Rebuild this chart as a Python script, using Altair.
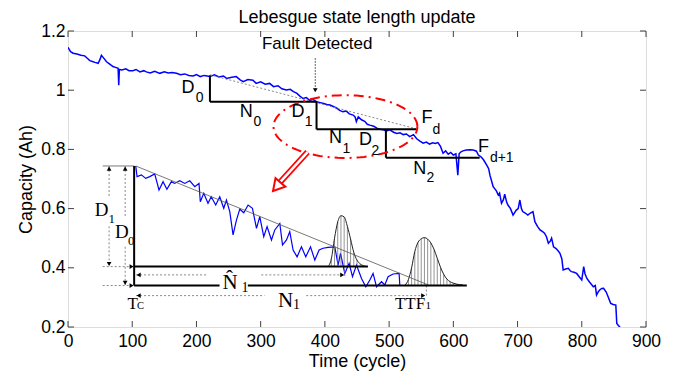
import altair as alt
import pandas as pd
import numpy as np

SANS = "Liberation Sans"
SERIF = "Liberation Serif"

# ---------------- data ----------------
main_cycle = [0, 4, 8, 14, 20, 26, 30, 34, 38, 42, 47, 50, 52, 55, 60, 65, 70, 74, 78, 79, 80, 84, 90, 95,
              101, 106, 112, 118, 122, 128, 135, 143, 150, 156, 162, 169, 175, 182, 188, 195, 200, 206, 212,
              221, 228, 235, 242, 247, 255, 262, 268, 273, 280, 288, 293, 300, 307, 314, 320, 327, 333, 340,
              346, 351, 356, 361, 366, 371, 377, 381, 387, 393, 398, 403, 408, 413, 418, 423, 428, 433, 438,
              444, 447, 449, 452, 457, 462, 466, 470, 476, 481, 486, 491, 496, 501, 507, 512, 517, 522, 527,
              532, 538, 543, 548, 553, 558, 563, 568, 572, 576, 580, 584, 588, 592, 596, 600, 604, 607, 609,
              612, 615, 620, 626, 631, 636, 639, 643, 647, 652, 655, 657, 660, 662, 667, 670, 672, 675, 678,
              680, 683, 685, 689, 693, 698, 701, 703.6, 706, 708, 712, 716, 720, 724, 727, 731, 735, 739, 742,
              745, 748, 751, 753, 756, 760, 764, 766, 769, 771, 775, 779, 782, 784, 788, 792, 796, 800, 803,
              805, 808, 812, 818, 821, 823, 826, 828, 831, 834, 838, 841, 845, 849, 853, 854.5, 857, 860]
main_cap = [1.145, 1.13, 1.125, 1.122, 1.118, 1.116, 1.108, 1.10, 1.097, 1.094, 1.091, 1.105, 1.118, 1.11,
            1.096, 1.088, 1.08, 1.077, 1.074, 1.017, 1.07, 1.068, 1.072, 1.066, 1.066, 1.07, 1.062, 1.066,
            1.062, 1.058, 1.064, 1.057, 1.062, 1.058, 1.06, 1.057, 1.052, 1.055, 1.05, 1.048, 1.053, 1.046,
            1.05, 1.046, 1.052, 1.045, 1.048, 1.04, 1.044, 1.046, 1.035, 1.029, 1.036, 1.034, 1.023, 1.028,
            1.02, 1.023, 1.012, 1.015, 1.005, 1.001, 1.003, 0.995, 0.99, 0.98, 0.972, 0.975, 0.965, 0.97,
            0.961, 0.958, 0.955, 0.952, 0.95, 0.945, 0.94, 0.932, 0.927, 0.93, 0.92, 0.916, 0.91, 0.894,
            0.91, 0.9, 0.895, 0.885, 0.882, 0.878, 0.872, 0.868, 0.866, 0.862, 0.866, 0.858, 0.854, 0.856,
            0.85, 0.852, 0.843, 0.85, 0.836, 0.828, 0.821, 0.825, 0.818, 0.822, 0.82, 0.823, 0.81, 0.787,
            0.795, 0.784, 0.79, 0.781, 0.785, 0.713, 0.785, 0.792, 0.795, 0.798, 0.799, 0.798, 0.794, 0.781,
            0.775, 0.765, 0.747, 0.735, 0.713, 0.69, 0.674, 0.66, 0.646, 0.652, 0.618, 0.63, 0.649, 0.622,
            0.612, 0.6, 0.578, 0.595, 0.6, 0.629, 0.6, 0.59, 0.585, 0.578, 0.585, 0.59, 0.556, 0.54, 0.528,
            0.522, 0.517, 0.505, 0.483, 0.49, 0.5, 0.471, 0.465, 0.455, 0.449, 0.43, 0.393, 0.396, 0.398,
            0.39, 0.387, 0.385, 0.381, 0.37, 0.359, 0.404, 0.38, 0.364, 0.352, 0.336, 0.34, 0.308, 0.32,
            0.325, 0.33, 0.331, 0.318, 0.302, 0.28, 0.276, 0.274, 0.212, 0.205, 0.198]

inset_cycle = [105.5, 107.5, 114.3, 121, 127.3, 135, 141.7, 148, 154, 161, 166, 174, 181.8, 189.6, 197.4,
               204, 206, 211.4, 218, 223, 230, 236.3, 242.5, 246.7, 251.9, 257, 262.3, 267.5, 273.7, 280.4,
               287.2, 293.5, 298.6, 304.8, 310, 316.8, 322, 329.8, 334, 340.2, 345.3, 350.5, 356.7, 363.5,
               370.2, 377.6, 384.3, 391, 397.2, 405, 415.4, 420.6, 424.3, 431, 437.7, 443, 449.2, 457,
               463.7, 470, 475, 480.4, 488.2, 493.3, 498.4, 506.2, 515.6, 516.7]
inset_cap = [0.744, 0.708, 0.714, 0.702, 0.708, 0.717, 0.663, 0.691, 0.665, 0.691, 0.685, 0.694, 0.685,
             0.694, 0.674, 0.685, 0.623, 0.652, 0.618, 0.640, 0.612, 0.640, 0.601, 0.629, 0.590, 0.511,
             0.561, 0.598, 0.586, 0.612, 0.601, 0.533, 0.573, 0.505, 0.539, 0.494, 0.528, 0.550, 0.477,
             0.494, 0.522, 0.460, 0.437, 0.471, 0.437, 0.471, 0.426, 0.460, 0.466, 0.469, 0.471, 0.409,
             0.449, 0.381, 0.415, 0.370, 0.409, 0.364, 0.336, 0.359, 0.381, 0.336, 0.353, 0.342, 0.370,
             0.379, 0.381, 0.339]

bell1_cycle = [405, 410, 415, 420, 425, 430, 435, 440, 445, 450, 455, 460, 465]
bell1_cap = [0.404, 0.43, 0.50, 0.555, 0.576, 0.572, 0.54, 0.497, 0.452, 0.426, 0.413, 0.407, 0.404]
bell1_base = 0.404
bell2_cycle = [525, 530, 535, 540, 545, 550, 555, 560, 565, 570, 575, 580, 585, 590, 595, 600, 605, 610, 615]
bell2_cap = [0.342, 0.36, 0.40, 0.455, 0.486, 0.498, 0.502, 0.497, 0.484, 0.462, 0.432, 0.402, 0.378,
             0.362, 0.353, 0.348, 0.345, 0.343, 0.342]
bell2_base = 0.342

x_ticks = [0, 100, 200, 300, 400, 500, 600, 700, 800, 900]
y_ticks = [0.2, 0.4, 0.6, 0.8, 1.0, 1.2]

# annotation segments (x, y, x2, y2)
thick_segs = [
    (221, 1.050, 221, 0.961), (221, 0.961, 387, 0.961), (387, 0.961, 387, 0.868),
    (387, 0.868, 542, 0.868), (495, 0.868, 495, 0.772), (495, 0.772, 641, 0.772),
    (103, 0.744, 103, 0.340), (103, 0.404, 467, 0.404), (103, 0.340, 236, 0.340),
    (280, 0.340, 621, 0.340),
]
thin_segs = [
    (105.5, 0.744, 561, 0.342), (54, 0.744, 103, 0.744),
]
dotted_segs = [
    (221, 1.052, 545, 0.868),
    (64, 0.744, 64, 0.64), (64, 0.54, 64, 0.404),
    (89, 0.744, 89, 0.573), (89, 0.471, 89, 0.340),
    (54, 0.404, 103, 0.404), (54, 0.340, 103, 0.340),
    (106, 0.376, 215, 0.376), (301, 0.376, 430, 0.376),
    (106, 0.306, 306, 0.306), (371, 0.306, 557, 0.306),
    (558, 0.340, 558, 0.300), (431, 0.404, 431, 0.372),
]
fault_segs = [(385, 1.108, 385, 1.0)]

arrow_heads = [  # x, y, shape
    (64, 0.735, "triangle-up"), (64, 0.413, "triangle-down"),
    (89, 0.735, "triangle-up"), (89, 0.349, "triangle-down"),
    (99, 0.404, "triangle-right"), (99, 0.340, "triangle-right"),
    (110, 0.376, "triangle-left"), (427, 0.376, "triangle-right"),
    (110, 0.306, "triangle-left"), (553, 0.306, "triangle-right"),
    (385, 1.0, "triangle-down"),
]

# hollow red arrow: tail, head base, head centre
red_arrow_shaft = [(373, 0.791, 331, 0.691)]
red_arrow_head = [(325, 0.674)]

# red dash-dot ellipse: centre and semi-axes
ell_cx, ell_cy, ell_rx, ell_ry = 432, 0.877, 112, 0.106

sans_labels = [  # x, y (baseline-left), text, size
    (176.6, 0.990, "D", 18), (199, 0.961, "0", 14),
    (267.4, 0.909, "N", 18), (289, 0.880, "0", 14),
    (348, 0.910, "D", 18), (368.7, 0.880, "1", 14),
    (406.5, 0.821, "N", 18), (427.4, 0.787, "1", 14),
    (453.3, 0.814, "D", 18), (472.6, 0.781, "2", 14),
    (550.5, 0.888, "F", 18), (567.6, 0.852, "d", 14),
    (537.4, 0.717, "N", 18), (558.3, 0.691, "2", 14),
    (638.6, 0.792, "F", 18), (656.9, 0.758, "d+1", 14),
]
serif_labels = [
    (41.6, 0.575, "D", 19), (63.0, 0.552, "1", 13),
    (73.0, 0.500, "D", 19), (93.6, 0.477, "0", 12.5),
    (240.5, 0.327, "N\u0302", 21), (270, 0.319, "1", 14),
    (327, 0.266, "N", 21), (350.5, 0.262, "1", 14),
    (92.5, 0.260, "T", 17), (107.5, 0.260, "C", 10.5),
    (509, 0.260, "TTF", 17), (556.7, 0.260, "1", 11),
]
fault_label = [(388, 1.138, "Fault Detected")]

# ---------------- build chart ----------------
W, H = 578, 296
xs = alt.Scale(domain=[0, 900], nice=False, zero=False)
ys = alt.Scale(domain=[0.2, 1.2], nice=False, zero=False)

x_axis = alt.Axis(values=x_ticks, title="Time (cycle)", ticks=False, tickSize=0, domain=False, grid=False,
                  labelFontSize=17.5, labelFont=SANS, labelPadding=5, labelColor="black",
                  labelFlush=False, labelOverlap=False,
                  titleFontSize=18, titleFont=SANS, titleFontWeight="normal", titleColor="black",
                  titlePadding=3)
y_axis = alt.Axis(values=y_ticks, title="Capacity (Ah)", ticks=False, tickSize=0, domain=False, grid=False,
                  format="~g", labelFontSize=17.5, labelFont=SANS, labelPadding=3, labelColor="black",
                  labelFlush=False, labelOverlap=False,
                  titleFontSize=18, titleFont=SANS, titleFontWeight="normal", titleColor="black",
                  titlePadding=5)


def X(f="x"):
    return alt.X(f"{f}:Q", scale=xs, axis=x_axis)


def Y(f="y"):
    return alt.Y(f"{f}:Q", scale=ys, axis=y_axis)


main_df = pd.DataFrame({"x": main_cycle, "y": main_cap, "o": range(len(main_cycle))})
inset_df = pd.DataFrame({"x": inset_cycle, "y": inset_cap, "o": range(len(inset_cycle))})

main_line = alt.Chart(main_df).mark_line(color="#0000ff", strokeWidth=1.5, clip=True).encode(
    x=X(), y=Y(), order="o:Q")
inset_line = alt.Chart(inset_df).mark_line(color="#0000ff", strokeWidth=1.2).encode(
    x=X(), y=Y(), order="o:Q")

# bells
bell_rows = []
for cx, cy in zip(bell1_cycle, bell1_cap):
    bell_rows.append({"b": 1, "x": cx, "y": cy, "base": bell1_base})
for cx, cy in zip(bell2_cycle, bell2_cap):
    bell_rows.append({"b": 2, "x": cx, "y": cy, "base": bell2_base})
bell_df = pd.DataFrame(bell_rows)
hatch = alt.Chart(bell_df).mark_rule(color="#777777", strokeWidth=0.8).encode(
    x=X(), y=Y(), y2="base:Q")
bell_outline = alt.Chart(bell_df).mark_line(color="#222222", strokeWidth=1, interpolate="monotone").encode(
    x=X(), y=Y(), detail="b:N")


def seg_df(segs):
    return pd.DataFrame(segs, columns=["x", "y", "x2", "y2"])


thick = alt.Chart(seg_df(thick_segs)).mark_rule(color="black", strokeWidth=2).encode(
    x=X(), y=Y(), x2="x2:Q", y2="y2:Q")
thin = alt.Chart(seg_df(thin_segs)).mark_rule(color="#555555", strokeWidth=0.8).encode(
    x=X(), y=Y(), x2="x2:Q", y2="y2:Q")
dotted = alt.Chart(seg_df(dotted_segs)).mark_rule(color="#888888", strokeWidth=1, strokeDash=[2, 2]).encode(
    x=X(), y=Y(), x2="x2:Q", y2="y2:Q")
fault = alt.Chart(seg_df(fault_segs)).mark_rule(color="#333333", strokeWidth=1, strokeDash=[1.5, 1.5]).encode(
    x=X(), y=Y(), x2="x2:Q", y2="y2:Q")

heads_df = pd.DataFrame(arrow_heads, columns=["x", "y", "s"])
heads = alt.Chart(heads_df).mark_point(filled=True, color="black", size=22, opacity=1).encode(
    x=X(), y=Y(), shape=alt.Shape("s:N", scale=None))

# ellipse
t = np.linspace(0, 2 * np.pi, 121)
ell_df = pd.DataFrame({"x": ell_cx + ell_rx * np.cos(t), "y": ell_cy + ell_ry * np.sin(t), "o": range(len(t))})
ellipse = alt.Chart(ell_df).mark_line(color="#ff0000", strokeWidth=2, strokeDash=[10, 5, 2, 5]).encode(
    x=X(), y=Y(), order="o:Q")

shaft_df = seg_df(red_arrow_shaft)
shaft_outer = alt.Chart(shaft_df).mark_rule(color="#ff0000", strokeWidth=6).encode(
    x=X(), y=Y(), x2="x2:Q", y2="y2:Q")
shaft_inner = alt.Chart(shaft_df).mark_rule(color="white", strokeWidth=2.5).encode(
    x=X(), y=Y(), x2="x2:Q", y2="y2:Q")
rhead = alt.Chart(pd.DataFrame(red_arrow_head, columns=["x", "y"])).mark_point(
    shape="triangle-up", angle=221, size=170, filled=True, fill="white", stroke="#ff0000",
    strokeWidth=2, opacity=1).encode(x=X(), y=Y())

# frame ticks (inward)
xt = pd.DataFrame({"t": x_ticks})
yt = pd.DataFrame({"t": y_ticks})
tick_col = "#404040"
ticks_bottom = alt.Chart(xt).mark_rule(color=tick_col).encode(
    x=X("t"), y=alt.value(H), y2=alt.value(H - 6))
ticks_top = alt.Chart(xt).mark_rule(color=tick_col).encode(
    x=X("t"), y=alt.value(0), y2=alt.value(6))
ticks_left = alt.Chart(yt).mark_rule(color=tick_col).encode(
    y=Y("t"), x=alt.value(0), x2=alt.value(6))
ticks_right = alt.Chart(yt).mark_rule(color=tick_col).encode(
    y=Y("t"), x=alt.value(W), x2=alt.value(W - 6))

sans_df = pd.DataFrame(sans_labels, columns=["x", "y", "text", "fs"])
serif_df = pd.DataFrame(serif_labels, columns=["x", "y", "text", "fs"])
sans_txt = alt.Chart(sans_df).mark_text(align="left", baseline="alphabetic", font=SANS, color="black").encode(
    x=X(), y=Y(), text="text:N", size=alt.Size("fs:Q", scale=None))
serif_txt = alt.Chart(serif_df).mark_text(align="left", baseline="alphabetic", font=SERIF, color="black").encode(
    x=X(), y=Y(), text="text:N", size=alt.Size("fs:Q", scale=None))
fault_txt = alt.Chart(pd.DataFrame(fault_label, columns=["x", "y", "text"])).mark_text(
    align="center", baseline="alphabetic", font=SANS, fontSize=17, color="black").encode(
    x=X(), y=Y(), text="text:N")

chart = alt.layer(
    main_line, inset_line, hatch, bell_outline, thin, dotted, fault, thick, heads,
    ellipse, shaft_outer, shaft_inner, rhead,
    ticks_bottom, ticks_top, ticks_left, ticks_right,
    sans_txt, serif_txt, fault_txt,
).properties(
    width=W, height=H,
    title=alt.TitleParams("Lebesgue state length update", fontSize=18, font=SANS, fontWeight="normal",
                          color="black", offset=-5),
    autosize=alt.AutoSizeParams(type="none"),
    padding={"left": 60, "top": 23, "right": 32, "bottom": 44},
).configure_view(stroke="#404040", strokeWidth=1).configure(background="white").configure_axis(
    titleFontWeight="normal", labelFontWeight="normal")

chart.save("out.html", embed_options={"renderer": "svg", "actions": False})
